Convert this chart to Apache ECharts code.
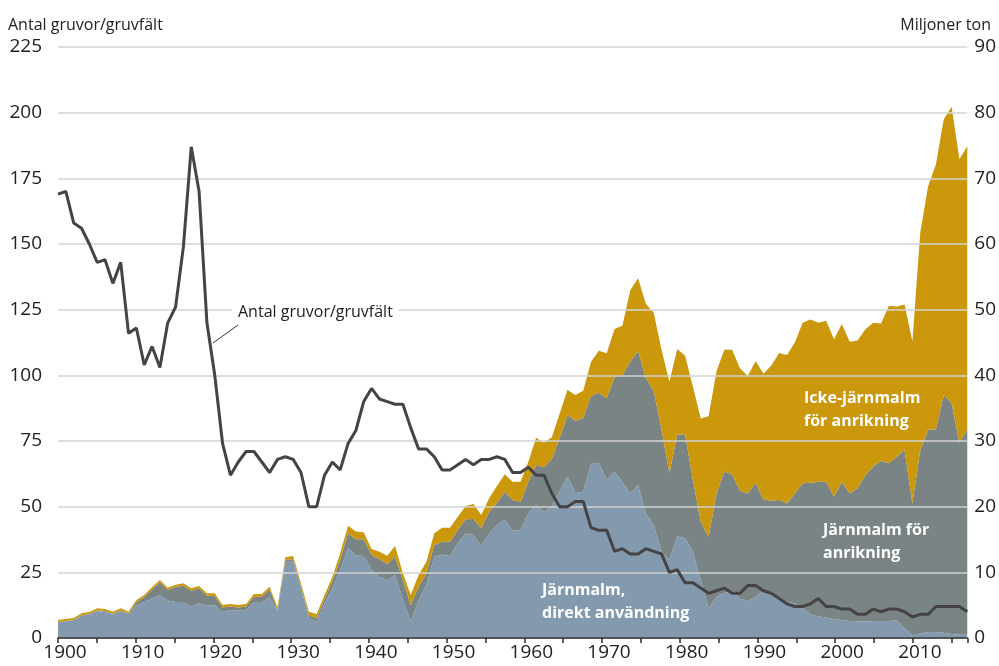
<html>
<head>
    <meta charset="utf-8">
    <script src="https://cdn.jsdelivr.net/npm/echarts@6/dist/echarts.min.js"></script>
    <style>
        html, body { margin: 0; padding: 0; background: #fff; }
        #chart { width: 999px; height: 666px; }
    </style>
</head>
<body>
    <div id="chart"></div>
    <script>
        // år 1900-2016
        var years = [];
        for (var y = 1900; y <= 2016; y++) years.push(String(y));

        // miljoner ton
        var direkt = [
            2.4, 2.55, 2.7, 3.4, 3.6, 4.1, 4.0, 3.6, 4.1, 3.6,
            5.0, 5.5, 6.0, 6.55, 5.7, 5.5, 5.5, 4.8, 5.3, 4.9,
            5.0, 4.0, 4.25, 4.15, 4.25, 5.5, 5.5, 6.2, 4.2, 11.6,
            11.6, 7.7, 3.0, 2.5, 5.2, 7.6, 10.3, 13.65, 12.6, 12.5,
            10.4, 9.3, 8.8, 9.6, 5.8, 2.5, 5.8, 8.1, 12.4, 12.7,
            12.5, 14.5, 15.9, 15.7, 14.0, 15.9, 17.2, 18.0, 16.35, 16.45,
            19.0, 20.25, 19.2, 20.0, 22.4, 24.6, 22.1, 22.3, 26.5, 26.7,
            24.1, 25.3, 23.8, 22.0, 23.3, 19.0, 17.2, 13.15, 11.9, 15.5,
            15.2, 13.15, 8.8, 4.5, 6.3, 6.9, 7.1, 6.0, 5.6, 6.3,
            7.2, 6.9, 6.2, 5.5, 5.3, 4.6, 3.6, 3.3, 3.1, 2.9,
            2.7, 2.6, 2.5, 2.5, 2.6, 2.6, 2.6, 2.7, 1.5, 0.4,
            0.7, 0.9, 0.9, 0.8, 0.6, 0.5, 0.5
        ];
        var anrikning = [
            0.05, 0.05, 0.05, 0.06, 0.06, 0.12, 0.12, 0.11, 0.12, 0.11,
            0.44, 0.7, 1.37, 1.93, 1.61, 2.27, 2.47, 2.41, 2.27, 1.55,
            1.4, 0.63, 0.53, 0.48, 0.53, 0.8, 0.8, 1.22, 0.07, 0.28,
            0.39, 0.12, 0.41, 0.55, 0.75, 1.0, 1.6, 2.29, 2.43, 2.53,
            2.24, 2.73, 2.47, 2.78, 3.03, 2.53, 2.02, 1.75, 1.76, 1.97,
            2.17, 1.95, 2.17, 2.42, 2.7, 3.34, 3.41, 4.28, 4.66, 4.31,
            4.8, 6.09, 6.79, 7.26, 8.1, 9.36, 11.0, 11.2, 10.35, 10.66,
            12.4, 14.4, 16.25, 20.05, 20.4, 20.55, 20.45, 18.55, 13.2, 15.5,
            15.8, 10.9, 8.9, 10.9, 15.7, 18.5, 17.8, 16.4, 16.4, 17.35,
            13.9, 14.0, 14.8, 15.0, 16.7, 18.95, 20.05, 20.5, 20.7, 18.6,
            21.1, 19.4, 20.3, 22.3, 23.5, 24.4, 24.0, 24.9, 27.1, 20.1,
            27.9, 30.8, 30.9, 36.2, 35.2, 29.25, 31.3
        ];
        var ickeJarn = [
            0.3, 0.3, 0.3, 0.3, 0.3, 0.3, 0.3, 0.3, 0.3, 0.3,
            0.35, 0.35, 0.35, 0.35, 0.35, 0.35, 0.35, 0.35, 0.35, 0.35,
            0.4, 0.4, 0.4, 0.4, 0.4, 0.4, 0.4, 0.4, 0.4, 0.4,
            0.5, 0.5, 0.6, 0.6, 0.6, 0.7, 1.0, 1.16, 1.17, 1.07,
            0.91, 1.12, 1.27, 1.62, 1.02, 1.52, 1.77, 1.77, 1.78, 2.13,
            2.13, 2.03, 2.03, 2.28, 2.03, 2.03, 2.54, 2.64, 2.79, 3.04,
            3.05, 4.16, 3.75, 3.3, 3.7, 3.84, 3.9, 4.16, 5.23, 6.39,
            6.85, 7.35, 7.51, 10.91, 11.07, 11.32, 11.88, 12.16, 13.93, 13.01,
            11.99, 14.21, 15.73, 18.37, 18.57, 18.5, 19.0, 18.66, 17.9, 18.53,
            19.15, 20.6, 22.4, 22.6, 23.0, 24.45, 24.85, 24.2, 24.5, 24.0,
            24.0, 23.1, 22.5, 22.2, 21.9, 20.9, 24.0, 22.9, 22.2, 24.7,
            33.1, 37.1, 40.3, 42.0, 45.1, 43.15, 43.1
        ];
        // antal gruvor/gruvfält
        var antalGruvor = [
            169, 170, 158, 156, 150, 143, 144, 135, 143, 116,
            118, 104, 111, 103, 120, 126, 149, 187, 170, 120,
            100, 74, 62, 67, 71, 71, 67, 63, 68, 69,
            68, 63, 50, 50, 62, 67, 64, 74, 79, 90,
            95, 91, 90, 89, 89, 80, 72, 72, 69, 64,
            64, 66, 68, 66, 68, 68, 69, 68, 63, 63,
            65, 62, 62, 55, 50, 50, 52, 52, 42, 41,
            41, 33, 34, 32, 32, 34, 33, 32, 25, 26,
            21, 21, 19, 17, 18, 19, 17, 17, 20, 20,
            18, 17, 15, 13, 12, 12, 13, 15, 12, 12,
            11, 11, 9, 9, 11, 10, 11, 11, 10, 8,
            9, 9, 12, 12, 12, 12, 10
        ];

        var font = '"Open Sans", "Noto Sans", sans-serif';
        var txt = '#222';

        function areaSeries(name, data, color) {
            return {
                name: name,
                type: 'line',
                stack: 'ton',
                xAxisIndex: 1,
                yAxisIndex: 1,
                data: data,
                symbol: 'none',
                lineStyle: { width: 0 },
                areaStyle: { color: color, opacity: 1 },
                z: 2
            };
        }

        var myChart = echarts.init(document.getElementById('chart'));
        var option = {
            animation: false,
            title: [
                {
                    text: 'Antal gruvor/gruvfält', left: 8, top: 17, padding: 0,
                    textStyle: { fontSize: 16, fontWeight: 'normal', color: txt, fontFamily: font }
                },
                {
                    text: 'Miljoner ton', right: 8, top: 17, padding: 0,
                    textStyle: { fontSize: 16, fontWeight: 'normal', color: txt, fontFamily: font }
                }
            ],
            grid: { left: 58, right: 31, top: 47, bottom: 28 },
            xAxis: [
                {
                    type: 'value',
                    min: 1900,
                    max: 2017,
                    interval: 5,
                    axisLine: { lineStyle: { color: '#2b2b2b', width: 1.5 } },
                    axisTick: { length: 5, lineStyle: { color: '#2b2b2b', width: 1.5 } },
                    axisLabel: {
                        formatter: function (v) { return v % 10 === 0 ? String(v) : ''; },
                        fontSize: 19, color: txt, fontFamily: font, margin: 5,
                        padding: [0, 0, 0, 14]
                    },
                    splitLine: { show: false },
                    z: 4
                },
                // dataaxel: ett steg per år, kant i kant med ritytan
                { type: 'category', data: years, boundaryGap: false, show: false }
            ],
            yAxis: [
                {
                    type: 'value',
                    min: 0,
                    max: 225,
                    interval: 25,
                    position: 'left',
                    z: 3,
                    axisLine: { show: false },
                    axisTick: { show: false },
                    axisLabel: { fontSize: 19, color: txt, fontFamily: font, margin: 16 },
                    splitLine: { lineStyle: { color: '#d3d3d3', width: 1.5 } }
                },
                {
                    type: 'value',
                    min: 0,
                    max: 90,
                    interval: 10,
                    position: 'right',
                    axisLine: { show: false },
                    axisTick: { show: false },
                    axisLabel: { fontSize: 19, color: txt, fontFamily: font, margin: 7 },
                    splitLine: { show: false }
                }
            ],
            series: [
                areaSeries('Järnmalm, direkt användning', direkt, '#8399ad'),
                areaSeries('Järnmalm för anrikning', anrikning, '#7b8484'),
                areaSeries('Icke-järnmalm för anrikning', ickeJarn, '#cb980c'),
                {
                    name: 'Antal gruvor/gruvfält',
                    type: 'line',
                    xAxisIndex: 1,
                    yAxisIndex: 0,
                    data: antalGruvor,
                    symbol: 'none',
                    lineStyle: { color: '#444', width: 3 },
                    z: 5
                }
            ],
            graphic: [
                {
                    type: 'line', z: 10,
                    shape: { x1: 238, y1: 325, x2: 213, y2: 343 },
                    style: { stroke: '#333', lineWidth: 1 }
                },
                {
                    type: 'text', z: 10, x: 232, y: 312,
                    style: {
                        text: 'Antal gruvor/gruvfält', font: '16px ' + font, fill: txt,
                        textVerticalAlign: 'middle', backgroundColor: '#fff', padding: [2, 6]
                    }
                },
                {
                    type: 'text', z: 10, x: 804, y: 387,
                    style: {
                        text: 'Icke-järnmalm\nför anrikning', font: 'bold 16px ' + font,
                        fill: '#fff', lineHeight: 23
                    }
                },
                {
                    type: 'text', z: 10, x: 823, y: 519,
                    style: {
                        text: 'Järnmalm för\nanrikning', font: 'bold 16px ' + font,
                        fill: '#fff', lineHeight: 23
                    }
                },
                {
                    type: 'text', z: 10, x: 542, y: 579,
                    style: {
                        text: 'Järnmalm,\ndirekt användning', font: 'bold 16px ' + font,
                        fill: '#fff', lineHeight: 23
                    }
                }
            ]
        };
        myChart.setOption(option);
        window.onresize = myChart.resize;
    </script>
</body>
</html>
